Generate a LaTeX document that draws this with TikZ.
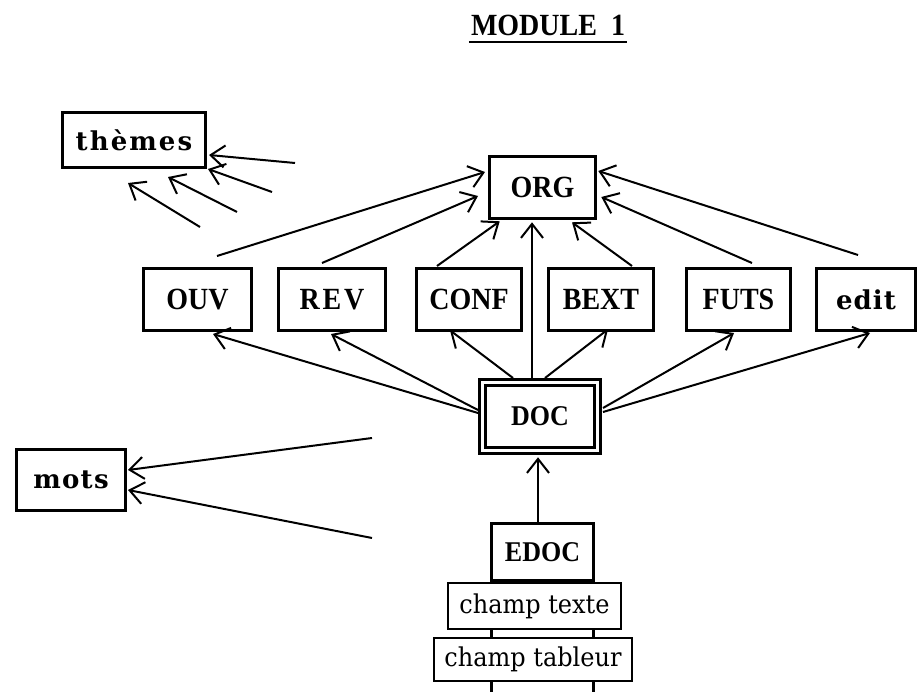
\documentclass[tikz,border=0pt]{standalone}
\usepackage{fontspec}
\setmainfont{Liberation Serif}
\newfontfamily\lowfont{DejaVu Serif}
\newcommand{\tallcaps}[1]{\scalebox{1}[1.1]{#1}}
\usetikzlibrary{arrows.meta,calc}
\begin{document}
\begin{tikzpicture}[x=1pt,y=-1pt,
  box/.style={draw, line width=3.4pt, rectangle, outer sep=0pt, inner sep=0pt, fill=white,
    font=\fontsize{28}{30}\selectfont\bfseries},
  spaced/.style={font=\fontsize{28}{30}\selectfont\bfseries\addfontfeature{LetterSpace=#1}},
  lowspaced/.style={font=\lowfont\fontsize{26}{28}\selectfont\bfseries\addfontfeature{LetterSpace=#1}},
  docbox/.style={draw, line width=3.2pt, double, double distance=3pt, rectangle, outer sep=0pt, inner sep=0pt,
    fill=white, font=\fontsize{26}{28}\selectfont\bfseries},
  fieldbox/.style={draw, line width=1.6pt, rectangle, outer sep=0pt, inner sep=0pt, fill=white,
    font=\lowfont\fontsize{24}{26}\selectfont},
  conn/.style={line width=2pt, -{Straight Barb[length=14pt,width=22pt]}}
]
\useasboundingbox (0,0) rectangle (917,692);

% title
\node[anchor=base, inner sep=0pt, font=\fontsize{28}{30}\selectfont\bfseries] (title) at (548,36) {\tallcaps{MODULE\hspace{14pt}1}};
\draw[line width=2.8pt] ($(title.base west)+(-2,6)$) -- ($(title.base east)+(2,6)$);

% boxes
\node[box, lowspaced=8, minimum width=142.6pt, minimum height=54.6pt] (themes) at (134,140) {thèmes};
\node[box, minimum width=105.6pt, minimum height=61.6pt] (org) at (542.5,187.5) {\tallcaps{ORG}};
\node[box, minimum width=107.6pt, minimum height=61.6pt] (ouv) at (197.5,299.5) {\tallcaps{OUV}};
\node[box, spaced=10, minimum width=106.6pt, minimum height=61.6pt] (rev) at (332,299.5) {\tallcaps{REV}};
\node[box, minimum width=104.6pt, minimum height=61.6pt] (conf) at (469,299.5) {\tallcaps{CONF}};
\node[box, minimum width=104.6pt, minimum height=61.6pt] (bext) at (601,299.5) {\tallcaps{BEXT}};
\node[box, minimum width=103.6pt, minimum height=61.6pt] (futs) at (738.5,299.5) {\tallcaps{FUTS}};
\node[box, lowspaced=4, minimum width=98.6pt, minimum height=61.6pt] (edit) at (866,299.5) {edit};
\node[docbox, minimum width=114.6pt, minimum height=67.6pt] (doc) at (540,416.5) {\tallcaps{DOC}};
\node[box, lowspaced=5, minimum width=108.6pt, minimum height=60.6pt] (mots) at (71,480) {mots};
\node[box, line width=3pt, font=\fontsize{26}{28}\selectfont\bfseries, minimum width=102pt, minimum height=57pt] (edoc) at (542.5,552) {\tallcaps{EDOC}};
\draw[line width=3pt] (edoc.south west) -- ++(0,115);
\draw[line width=3pt] (edoc.south east) -- ++(0,115);
\node[fieldbox, minimum width=173.4pt, minimum height=46.4pt] (ctexte) at (534.5,606) {\scalebox{1}[1.08]{champ texte}};
\node[fieldbox, minimum width=198.4pt, minimum height=43.4pt] (ctableur) at (533,659.5) {\scalebox{1}[1.08]{champ tableur}};

% free tails
\coordinate (ta) at (295,163);
\coordinate (tb) at (272,192);
\coordinate (tc) at (237,212);
\coordinate (td) at (200,227);
\coordinate (ma) at (372,438);
\coordinate (mb) at (372,538);

% arrows into themes
\draw[conn] (ta) -- ([shift={(3.7,15)}]themes.east);
\draw[conn] (tb) -- ([shift={(2.7,1.7)}]themes.south east);
\draw[conn] (tc) -- ([shift={(34,9.7)}]themes.south);
\draw[conn] (td) -- ([shift={(-6,15.7)}]themes.south);

% arrows into ORG
\draw[conn] ([shift={(19.5,-12.7)}]ouv.north) -- ([shift={(-4.7,-15.5)}]org.west);
\draw[conn] ([shift={(-10,-5.7)}]rev.north) -- ([shift={(-11.7,8.5)}]org.west);
\draw[conn] ([shift={(-32,-2.7)}]conf.north) -- ([shift={(10,3)}]org.south west);
\draw[conn] ([shift={(-8,-4.7)}]doc.north) -- ([shift={(-10.5,4)}]org.south);
\draw[conn] ([shift={(31,-2.7)}]bext.north) -- ([shift={(29.5,4)}]org.south);
\draw[conn] ([shift={(13.5,-5.7)}]futs.north) -- ([shift={(6,9.5)}]org.east);
\draw[conn] ([shift={(-8,-13.7)}]edit.north) -- ([shift={(3,-16.5)}]org.east);

% arrows from DOC
\draw[conn] ([shift={(-4.7,-3.5)}]doc.west) -- ([shift={(15.5,3.7)}]ouv.south);
\draw[conn] ([shift={(-4.7,-6.5)}]doc.west) -- ([shift={(-1,3.7)}]rev.south);
\draw[conn] ([shift={(-27,-4.7)}]doc.north) -- ([shift={(-19,0)}]conf.south);
\draw[conn] ([shift={(5,-4.7)}]doc.north) -- ([shift={(7,-1)}]bext.south);
\draw[conn] ([shift={(5.7,-8.5)}]doc.east) -- ([shift={(-4.5,2.7)}]futs.south);
\draw[conn] ([shift={(5.7,-4.5)}]doc.east) -- ([shift={(4,2.7)}]edit.south);

% EDOC to DOC
\draw[conn] ([shift={(-4.5,0)}]edoc.north) -- ([shift={(-2,7)}]doc.south);

% arrows into mots
\draw[conn] (ma) -- ([shift={(2.7,-10)}]mots.east);
\draw[conn] (mb) -- ([shift={(2.7,10)}]mots.east);
\end{tikzpicture}
\end{document}
